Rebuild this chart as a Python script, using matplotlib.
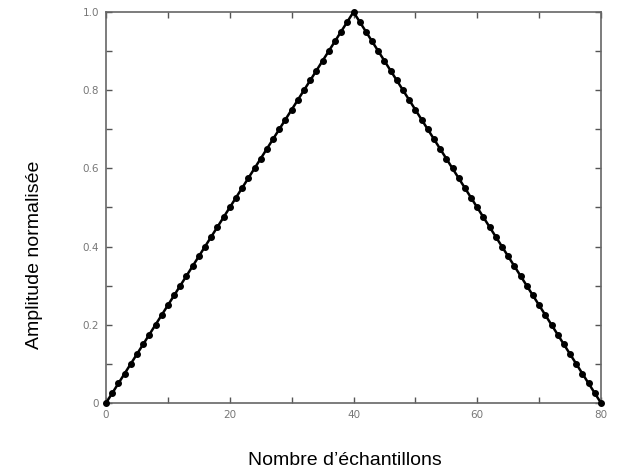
import matplotlib
matplotlib.use('Agg')
import matplotlib.pyplot as plt
from matplotlib.ticker import MultipleLocator

# triangular window samples
samples = list(range(81))
amplitude = [
    0.000, 0.025, 0.050, 0.075, 0.100, 0.125, 0.150, 0.175, 0.200, 0.225,
    0.250, 0.275, 0.300, 0.325, 0.350, 0.375, 0.400, 0.425, 0.450, 0.475,
    0.500, 0.525, 0.550, 0.575, 0.600, 0.625, 0.650, 0.675, 0.700, 0.725,
    0.750, 0.775, 0.800, 0.825, 0.850, 0.875, 0.900, 0.925, 0.950, 0.975,
    1.000,
    0.975, 0.950, 0.925, 0.900, 0.875, 0.850, 0.825, 0.800, 0.775, 0.750,
    0.725, 0.700, 0.675, 0.650, 0.625, 0.600, 0.575, 0.550, 0.525, 0.500,
    0.475, 0.450, 0.425, 0.400, 0.375, 0.350, 0.325, 0.300, 0.275, 0.250,
    0.225, 0.200, 0.175, 0.150, 0.125, 0.100, 0.075, 0.050, 0.025, 0.000,
]
x_ticks = [0, 20, 40, 60, 80]
x_labels = ['0', '20', '40', '60', '80']
y_ticks = [0, 0.2, 0.4, 0.6, 0.8, 1.0]
y_labels = ['0', '0.2', '0.4', '0.6', '0.8', '1.0']


def put_plot():
    fig = plt.figure(figsize=(6.19, 4.73), dpi=100)
    ax = fig.add_axes([106 / 619, 1 - 403 / 473, (601 - 106) / 619, (403 - 12) / 473])

    ax.plot(samples, amplitude, color='black', linewidth=1.8,
            marker='o', markersize=4.0, clip_on=False, zorder=3)

    ax.set_xlim(0, 80)
    ax.set_ylim(0, 1.0)
    ax.set_xticks(x_ticks)
    ax.set_xticklabels(x_labels)
    ax.set_yticks(y_ticks)
    ax.set_yticklabels(y_labels)
    ax.xaxis.set_minor_locator(MultipleLocator(10))
    ax.yaxis.set_minor_locator(MultipleLocator(0.1))

    ax.tick_params(which='both', direction='in', top=True, right=True,
                   colors='#555555', labelcolor='#777777', labelsize=7.5,
                   width=1.0)
    ax.tick_params(which='major', length=4, pad=5)
    ax.tick_params(which='minor', length=4)
    for side in ax.spines.values():
        side.set_color('#666666')
        side.set_linewidth(1.2)

    fig.text(345 / 619, 1 - 460 / 473, 'Nombre d\u2019échantillons',
             ha='center', va='center', fontsize=14, family='Liberation Sans')
    fig.text(35 / 619, 1 - 255 / 473, 'Amplitude normalisée', rotation=90,
             ha='center', va='center', fontsize=14, family='Liberation Sans')

    fig.savefig('out.png', dpi=100)


if __name__ == "__main__":
    put_plot()
